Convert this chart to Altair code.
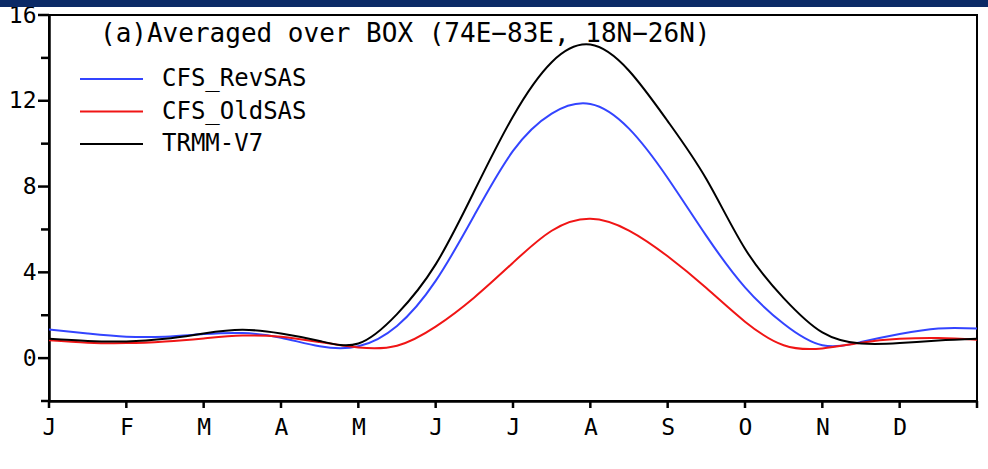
import altair as alt
import pandas as pd

# ---- data ----
month_pos = [0, 0.5, 1, 1.5, 2, 2.5, 3, 3.5, 4, 4.5, 5, 5.5, 6,
             6.5, 7, 7.5, 8, 8.5, 9, 9.5, 10, 10.5, 11, 11.5, 12]
rev_sas = [1.33, 1.15, 1.00, 1.00, 1.12, 1.17, 0.95, 0.55, 0.55, 1.50, 3.60, 6.66, 9.66,
           11.40, 11.85, 10.70, 8.40, 5.70, 3.30, 1.60, 0.60, 0.75, 1.12, 1.38, 1.38]
old_sas = [0.83, 0.72, 0.70, 0.78, 0.92, 1.05, 1.00, 0.75, 0.50, 0.58, 1.47, 2.83, 4.45,
           5.94, 6.50, 5.95, 4.75, 3.27, 1.70, 0.60, 0.45, 0.72, 0.90, 0.94, 0.86]
trmm = [0.90, 0.80, 0.78, 0.90, 1.15, 1.32, 1.15, 0.80, 0.68, 2.05, 4.37, 7.79, 11.27,
        13.80, 14.62, 13.40, 11.05, 8.35, 5.10, 2.80, 1.20, 0.68, 0.70, 0.82, 0.90]

series_names = ["CFS_RevSAS", "CFS_OldSAS", "TRMM-V7"]
series_colors = ["#3344ff", "#f01515", "#000000"]
month_labels = ["J", "F", "M", "A", "M", "J", "J", "A", "S", "O", "N", "D", ""]
x_ticks = [0, 1, 2, 3, 4, 5, 6, 7, 8, 9, 10, 11, 12]
y_major_ticks = [0, 4, 8, 12, 16]
y_minor_ticks = [-2, 2, 6, 10, 14]
y_ticks = [-2, 0, 2, 4, 6, 8, 10, 12, 14, 16]
title_text = "(a)Averaged over BOX (74E\u221283E, 18N\u221226N)"

FONT = "DejaVu Sans Mono"

rows = []
for name, vals in zip(series_names, [rev_sas, old_sas, trmm]):
    for m, v in zip(month_pos, vals):
        rows.append({"month": m, "value": v, "series": name})
df = pd.DataFrame(rows)
legend_df = pd.DataFrame({"series": series_names})

label_js = "[" + ",".join(f"'{l}'" for l in month_labels) + "]"

x_scale = alt.Scale(domain=[0, 12], nice=False, zero=False)
y_scale = alt.Scale(domain=[-2, 16], nice=False, zero=False)

color_enc = alt.Color("series:N",
                      scale=alt.Scale(domain=series_names, range=series_colors),
                      legend=None)

lines = alt.Chart(df).mark_line(interpolate="natural", strokeWidth=2, clip=True).encode(
    x=alt.X("month:Q", scale=x_scale,
            axis=alt.Axis(values=x_ticks, labelExpr=f"{label_js}[datum.value]",
                          title=None, grid=False, ticks=False,
                          domainColor="black", domainWidth=2.5,
                          labelFont=FONT, labelFontSize=23, labelColor="black",
                          labelPadding=15, labelFlush=False, labelOverlap=False)),
    y=alt.Y("value:Q", scale=y_scale,
            axis=alt.Axis(values=y_ticks,
                          labelExpr="datum.value % 4 == 0 ? datum.label : ''",
                          title=None, grid=False, ticks=False,
                          domainColor="black", domainWidth=2.5,
                          labelFont=FONT, labelFontSize=23, labelColor="black",
                          labelPadding=13, labelOverlap=False)),
    color=color_enc,
    detail="series:N",
)

# tick marks drawn through the chart's own scales
x_tick_marks = alt.Chart(pd.DataFrame({"t": x_ticks})).mark_rule(
    color="black", strokeWidth=2.5, clip=False).encode(
    x=alt.X("t:Q", scale=x_scale), y=alt.value(386), y2=alt.value(393))

y_major_marks = alt.Chart(pd.DataFrame({"t": y_major_ticks})).mark_rule(
    color="black", strokeWidth=2.5, clip=False).encode(
    y=alt.Y("t:Q", scale=y_scale, axis=None), x=alt.value(-11), x2=alt.value(0))

y_minor_marks = alt.Chart(pd.DataFrame({"t": y_minor_ticks})).mark_rule(
    color="black", strokeWidth=2.5, clip=False).encode(
    y=alt.Y("t:Q", scale=y_scale, axis=None), x=alt.value(-8), x2=alt.value(0))

leg_y = alt.Y("series:N", sort=series_names,
              scale=alt.Scale(type="point", range=[64, 129], padding=0), axis=None)

legend_lines = alt.Chart(legend_df).mark_rule(strokeWidth=2).encode(
    x=alt.value(31), x2=alt.value(94), y=leg_y, color=color_enc)

legend_text = alt.Chart(legend_df).mark_text(
    align="left", baseline="middle", font=FONT, fontSize=24, color="black").encode(
    x=alt.value(113), y=leg_y, text="series:N")

title = alt.Chart(pd.DataFrame({"t": [title_text]})).mark_text(
    align="left", baseline="middle", font=FONT, fontSize=26, color="black").encode(
    x=alt.value(51), y=alt.value(19), text="t:N")

bar = alt.Chart(pd.DataFrame({"a": [0]})).mark_rect(color="#0b2a66", clip=False).encode(
    x=alt.value(-49), x2=alt.value(939), y=alt.value(-15), y2=alt.value(-8))

chart = alt.layer(lines, x_tick_marks, y_major_marks, y_minor_marks,
                  legend_lines, legend_text, title, bar).resolve_scale(
    y="independent"
).properties(
    width=928, height=386,
    padding={"left": 49, "top": 15, "right": 11, "bottom": 68},
    autosize=alt.AutoSizeParams(type="none"),
    background="white",
).configure_view(stroke="black", strokeWidth=2)

chart.save("out.html", embed_options={"renderer": "svg", "actions": False})
